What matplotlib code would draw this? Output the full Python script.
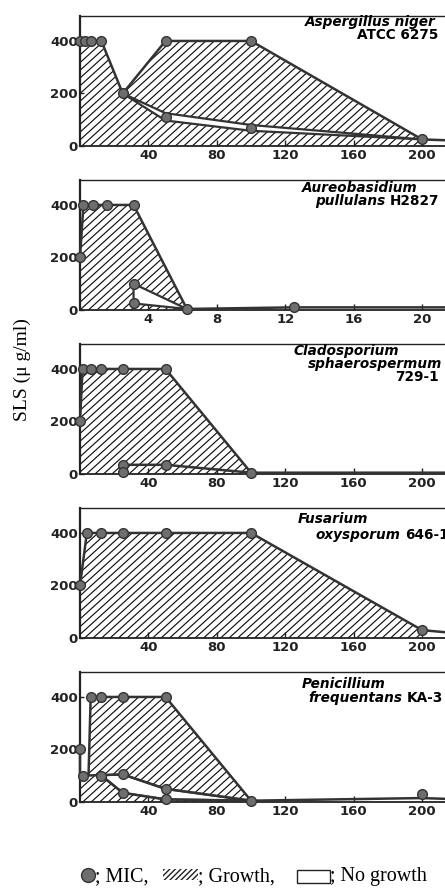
import numpy as np
import matplotlib
matplotlib.use('Agg')
import matplotlib.pyplot as plt
from matplotlib.patches import Rectangle, Polygon
from matplotlib.lines import Line2D
from matplotlib.collections import LineCollection
from matplotlib.transforms import IdentityTransform

# ---------------- data (concentration, µg/ml) ----------------
# Panel 1: Aspergillus niger ATCC 6275
mic1_x = [0, 3.13, 6.25, 12.5, 25, 50, 100, 50, 100, 200]
mic1_y = [400, 400, 400, 400, 200, 400, 400, 110, 70, 25]
env1_x = [0, 12.5, 25, 50, 100, 200, 213.4]
env1_y = [400, 400, 200, 400, 400, 25, 22]
grow1_x = [0, 0, 12.5, 25, 50, 100, 200, 200]
grow1_y = [0, 400, 400, 200, 400, 400, 25, 0]
nog1_x = [25, 50, 100, 200, 100, 50]
nog1_y = [200, 125, 80, 25, 58, 97]

# Panel 2: Aureobasidium pullulans H2827
mic2_x = [0, 0.2, 0.78, 1.56, 3.13, 3.13, 3.13, 6.25, 12.5]
mic2_y = [200, 400, 400, 400, 400, 100, 25, 4, 12]
env2_x = [0, 0.2, 3.13, 6.25, 12.5, 21.34]
env2_y = [200, 400, 400, 4, 10, 10]
grow2_x = [0, 0, 0.2, 3.13, 6.25, 6.25]
grow2_y = [0, 200, 400, 400, 4, 0]
nog2_x = [3.13, 6.25, 3.13]
nog2_y = [100, 4, 25]

# Panel 3: Cladosporium sphaerospermum 729-1
mic3_x = [0, 1.5, 6.25, 12.5, 25, 50, 25, 25, 50, 100]
mic3_y = [200, 400, 400, 400, 400, 400, 35, 8, 35, 5]
env3_x = [0, 1.5, 50, 100, 213.4]
env3_y = [200, 400, 400, 5, 5]
grow3_x = [0, 0, 1.5, 50, 100, 100]
grow3_y = [0, 200, 400, 400, 5, 0]
in3_x = [25, 25, 50, 100]
in3_y = [8, 35, 35, 5]

# Panel 4: Fusarium oxysporum 646-1
mic4_x = [0, 4, 12.5, 25, 50, 100, 200]
mic4_y = [200, 400, 400, 400, 400, 400, 30]
env4_x = [0, 4, 100, 200, 213.4]
env4_y = [200, 400, 400, 30, 22]
grow4_x = [0, 0, 4, 100, 200, 200]
grow4_y = [0, 200, 400, 400, 30, 0]

# Panel 5: Penicillium frequentans KA-3
mic5_x = [0, 6.25, 12.5, 25, 50, 2, 12.5, 25, 50, 25, 50, 100, 200]
mic5_y = [200, 400, 400, 400, 400, 100, 100, 105, 50, 35, 10, 5, 30]
env5_x = [6.25, 50, 100, 200, 213.4]
env5_y = [400, 400, 5, 15, 12]
up5_x = [0, 0, 25, 50, 100]
up5_y = [200, 100, 105, 50, 5]
vert5_x = [5, 6.25]
vert5_y = [105, 400]
low5_x = [12.5, 25, 50, 100]
low5_y = [100, 35, 10, 5]
grow5_x = [0, 0, 5, 6.25, 50, 100, 100]
grow5_y = [0, 100, 105, 400, 400, 5, 0]
nog5_x = [12.5, 25, 50, 100, 50, 25]
nog5_y = [102, 105, 50, 5, 10, 35]

xticks_main = [40, 80, 120, 160, 200]
xticks_p2 = [4, 8, 12, 16, 20]
yticks = [0, 200, 400]

# ---------------- figure ----------------
W, H = 445, 891
fig = plt.figure(figsize=(W / 100, H / 100), dpi=100)

LINE = '#333333'
MFC = '#6e6e6e'
TICKFONT = dict(family='DejaVu Sans', weight='bold', size=9.5)
TITLEFONT = dict(family='DejaVu Sans', weight='bold', size=9.8)


def fx(x):
    return x / W


def fy(y):
    return 1 - y / H


def hatch_into(ax, patch, spacing=8.5, lw=0.85):
    """Diagonal hatching (pixel spacing) clipped to a patch."""
    segs = [[(c, 0), (c + H * 1.1, H)] for c in np.arange(-1.2 * H, W + 10, spacing)]
    lc = LineCollection(segs, transform=IdentityTransform(), colors='#111111',
                        linewidths=lw, zorder=1.5)
    ax.add_collection(lc, autolim=False)
    lc.set_clip_path(patch)


panels = [
    dict(xmax=213.4, xt=xticks_main, mic=(mic1_x, mic1_y), grow=(grow1_x, grow1_y),
         nog=[(nog1_x, nog1_y)], lines=[(env1_x, env1_y)],
         title=[(305, 22, [("Aspergillus niger", 'italic')]),
                (357, 35, [("ATCC 6275", 'normal')])]),
    dict(xmax=21.34, xt=xticks_p2, mic=(mic2_x, mic2_y), grow=(grow2_x, grow2_y),
         nog=[(nog2_x, nog2_y)], lines=[(env2_x, env2_y)],
         title=[(302, 188, [("Aureobasidium", 'italic')]),
                (315, 201, [("pullulans", 'italic'), ("H2827", 'normal')])]),
    dict(xmax=213.4, xt=xticks_main, mic=(mic3_x, mic3_y), grow=(grow3_x, grow3_y),
         nog=[], lines=[(env3_x, env3_y), (in3_x, in3_y)],
         title=[(293, 351, [("Cladosporium", 'italic')]),
                (308, 364, [("sphaerospermum", 'italic')]),
                (395, 377, [("729-1", 'normal')])]),
    dict(xmax=213.4, xt=xticks_main, mic=(mic4_x, mic4_y), grow=(grow4_x, grow4_y),
         nog=[], lines=[(env4_x, env4_y)],
         title=[(298, 519, [("Fusarium", 'italic')]),
                (315, 535, [("oxysporum", 'italic'), ("646-1", 'normal')])]),
    dict(xmax=213.4, xt=xticks_main, mic=(mic5_x, mic5_y), grow=(grow5_x, grow5_y),
         nog=[(nog5_x, nog5_y)],
         lines=[(env5_x, env5_y), (up5_x, up5_y), (vert5_x, vert5_y), (low5_x, low5_y)],
         title=[(302, 684, [("Penicillium", 'italic')]),
                (308, 698, [("frequentans", 'italic'), ("KA-3", 'normal')])]),
]

for i, p in enumerate(panels):
    zero_px = 146 + 164 * i
    top_px = 16 + 164 * i
    ax = fig.add_axes([fx(80), fy(zero_px), (W - 80) / W, (zero_px - top_px) / H])
    ax.set_xlim(0, p['xmax'])
    ax.set_ylim(0, 495)
    ax.spines['right'].set_visible(False)
    ax.spines['left'].set_linewidth(1.6)
    ax.spines['bottom'].set_linewidth(1.3)
    ax.spines['top'].set_linewidth(1.0)
    for s in ax.spines.values():
        s.set_color('#222222')
    ax.set_xticks(p['xt'])
    ax.set_xticklabels([str(v) for v in p['xt']], **TICKFONT)
    ax.set_yticks(yticks)
    ax.set_yticklabels([str(v) for v in yticks], **TICKFONT)
    ax.tick_params(axis='x', direction='in', length=4, width=1, pad=2, colors='#222222')
    ax.tick_params(axis='y', direction='in', length=3, width=1, pad=1.5, colors='#222222')

    gx, gy = p['grow']
    gpatch = Polygon(list(zip(gx, gy)), closed=True, facecolor='white',
                     edgecolor='none', linewidth=0, zorder=1)
    ax.add_patch(gpatch)
    hatch_into(ax, gpatch)
    for nx, ny in p['nog']:
        ax.add_patch(Polygon(list(zip(nx, ny)), closed=True, facecolor='white',
                             edgecolor=LINE, linewidth=1.6, zorder=2))
    for lx, ly in p['lines']:
        ax.plot(lx, ly, color=LINE, lw=1.8, zorder=3, clip_on=False,
                solid_joinstyle='round')
    mx, my = p['mic']
    ax.plot(mx, my, 'o', ms=7, mfc=MFC, mec='#333333', mew=1, zorder=4, clip_on=False)

    # species titles
    for (tx, ty, parts) in p['title']:
        prev = fig.text(fx(tx), fy(ty), parts[0][0], ha='left', va='center',
                        style=parts[0][1], **TITLEFONT)
        for txt, style in parts[1:]:
            prev = fig.text(0, 0, txt, ha='left', va='bottom', style=style, **TITLEFONT)
            prev.remove()
        if len(parts) > 1:
            first = [t for t in fig.texts if t.get_text() == parts[0][0]][-1]
            for txt, style in parts[1:]:
                first = ax.annotate(txt, xy=(1, 0), xycoords=first, xytext=(3.5, 0),
                                    textcoords='offset points', va='bottom', ha='left',
                                    annotation_clip=False, style=style, **TITLEFONT)

# y-axis label
fig.text(fx(22), fy(370), 'SLS (\u03bc g/ml)', rotation=90, ha='center', va='center',
         family='Liberation Serif', size=14)

# legend
SERIF = dict(family='Liberation Serif', size=14.5)
fig.add_artist(Line2D([fx(88)], [fy(875)], marker='o', ms=10, mfc=MFC, mec='#333333',
                      mew=1, transform=fig.transFigure))
fig.text(fx(95), fy(877), '; MIC,', ha='left', va='center', **SERIF)
fig.add_artist(Rectangle((fx(163), fy(880)), 35 / W, 11 / H, facecolor='white',
                         edgecolor='#222222', hatch='//////', linewidth=0,
                         transform=fig.transFigure))
fig.text(fx(198), fy(877), '; Growth,', ha='left', va='center', **SERIF)
fig.add_artist(Rectangle((fx(297), fy(883)), 33 / W, 13 / H, facecolor='white',
                         edgecolor='#222222', linewidth=1.0, transform=fig.transFigure))
fig.text(fx(330), fy(877), '; No growth', ha='left', va='center', **SERIF)

fig.savefig('out.png', dpi=100)
